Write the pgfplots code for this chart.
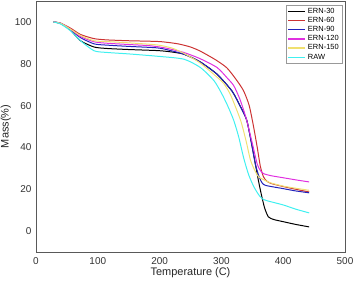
\documentclass[border=0pt]{standalone}
\usepackage{pgfplots}
\pgfplotsset{compat=1.18}
\usepackage{fontspec}
\setmainfont{Liberation Sans}
\definecolor{cRed}{HTML}{CC3333}
\definecolor{cBlue}{HTML}{2222BB}
\definecolor{cMag}{HTML}{E030E0}
\definecolor{cYel}{HTML}{F0E070}
\definecolor{cCya}{HTML}{40F0F0}
\begin{document}
\begin{tikzpicture}
\useasboundingbox (-36bp,-33bp) rectangle (320bp,252bp);
\begin{axis}[
  at={(0,0)}, anchor=south west,
  scale only axis, width=309bp, height=251bp,
  xmin=0, xmax=500, ymin=-10, ymax=110,
  xtick={0,100,200,300,400,500},
  ytick={0,20,40,60,80,100},
  major tick length=0pt,
  tick label style={font=\fontsize{10}{12}\selectfont, text=black!80},
  /pgf/number format/assume math mode=true,
  xticklabel style={yshift=-2bp},
  yticklabel style={xshift=-1bp},
  axis line style={black!65, line width=0.8pt},
  xlabel={Temperature (C)}, ylabel={Mass(\%)},
  label style={font=\fontsize{11}{13}\selectfont, text=black!85},
  xlabel style={yshift=4bp},
  ylabel style={yshift=-3bp},
  legend style={font=\fontsize{7.5}{8}\selectfont, draw=black!40, row sep=-1.5pt, inner sep=1pt, at={(0.99,0.985)}, anchor=north east, cells={anchor=west}},
  legend image post style={line width=1.5pt},
  every axis plot/.append style={line width=1pt},
]
\addplot[color=black, smooth, tension=0.4] coordinates {(28,100) (40,99.2) (56,96) (72,91) (94,88) (115,87.3) (150,86.8) (196,86.3) (215,85.8) (239,84.6) (265,81) (293,75) (317,67) (330,60) (341,53) (350,40) (355,32) (360,24) (365,17) (370,11) (376,6.8) (385,5.5) (400,4.5) (420,3.2) (442,2)};
\addlegendentry{ERN-30}
\addplot[color=cRed, smooth, tension=0.4] coordinates {(28,100) (40,99.4) (56,97) (72,94) (94,92) (115,91.4) (150,91) (200,90.6) (230,89.5) (250,88) (266,86) (290,82) (309,78) (325,72) (336,67) (345,60) (352,50) (358,40) (363,31) (368,26) (373,24) (380,22.8) (400,21.3) (420,20) (442,18.7)};
\addlegendentry{ERN-60}
\addplot[color=cBlue, smooth, tension=0.4] coordinates {(28,100) (40,99.3) (56,96.3) (72,92.5) (94,89.5) (115,88.9) (150,88.3) (196,87.6) (215,86.5) (239,84.6) (265,81) (293,75) (317,67) (330,60) (341,53) (348,43) (355,32) (361,26) (366,23) (372,21.8) (400,20.3) (420,19.2) (442,18.3)};
\addlegendentry{ERN-90}
\addplot[color=cMag, smooth, tension=0.4] coordinates {(28,100) (40,99.3) (56,96.5) (72,93) (94,90.5) (115,89.8) (150,89.2) (185,88.6) (210,87.5) (239,85.4) (265,82.5) (293,78.2) (310,73) (320,69.5) (330,63) (340,54) (350,42) (358,32) (363,29) (368,27.5) (380,26.5) (400,25.5) (420,24.5) (442,23.5)};
\addlegendentry{ERN-120}
\addplot[color=cYel, smooth, tension=0.4] coordinates {(28,100) (40,99.3) (56,96.5) (72,93.5) (94,91) (115,90.6) (150,90) (196,89) (220,87.5) (239,85) (265,80.5) (293,73.6) (304,70.5) (315,65) (331,53) (340,43) (347,34) (354,29) (360,26) (370,24.3) (380,23) (400,21.5) (420,20.5) (442,19.5)};
\addlegendentry{ERN-150}
\addplot[color=cCya, smooth, tension=0.4] coordinates {(28,100) (40,99) (56,95.7) (72,91) (94,86.2) (115,85.4) (150,84.7) (196,83.6) (239,82.2) (266,78.2) (288,71.9) (300,66) (310,60) (320,52.9) (328,45) (336,35) (344,27) (352,21.5) (360,17.5) (366,15.5) (374,14.5) (400,12.5) (420,10.5) (442,8.7)};
\addlegendentry{RAW}
\end{axis}
\end{tikzpicture}
\end{document}
